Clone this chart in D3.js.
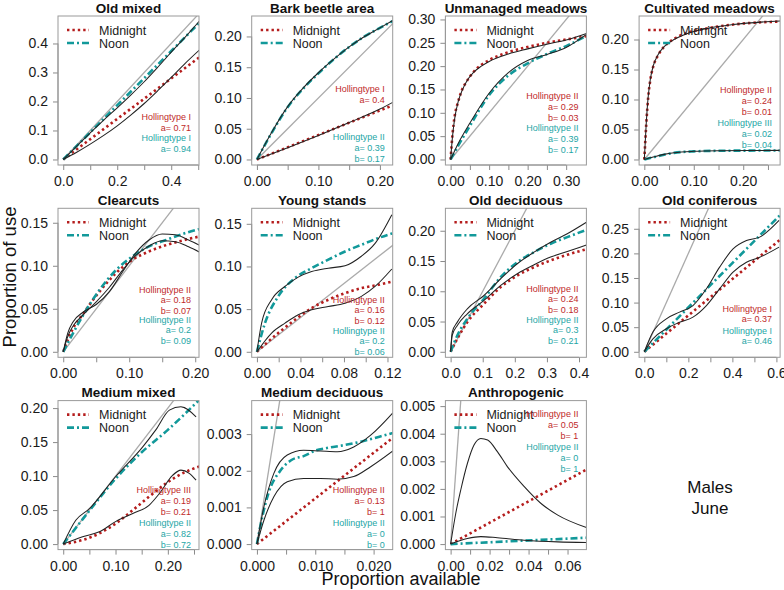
<!DOCTYPE html>
<html><head><meta charset="utf-8">
<script src="https://cdn.jsdelivr.net/npm/d3@7"></script>
<style>body{margin:0;background:#fff}svg{display:block;font-family:"Liberation Sans",Arial,Helvetica,sans-serif}</style>
</head><body><svg id="c" width="784" height="590"></svg>
<script>
// ---------- data ----------
const titles = ["Old mixed","Bark beetle area","Unmanaged meadows","Cultivated meadows",
  "Clearcuts","Young stands","Old deciduous","Old coniferous",
  "Medium mixed","Medium deciduous","Anthropogenic"];
const xMax = [0.4835,0.2123,0.339,0.264,0.1978,0.120,0.4067,0.593,0.2496,0.02238,0.0670];
const yMax = [0.4757,0.2243,0.2956,0.230,0.1604,0.1617,0.228,0.2804,0.2029,0.003763,0.0050];
const xTicks = [
  [0,0.1,0.2,0.3,0.4,0.5],[0,0.05,0.1,0.15,0.2],[0,0.05,0.1,0.15,0.2,0.25,0.3],[0,0.05,0.1,0.15,0.2,0.25],
  [0,0.05,0.1,0.15,0.2],[0,0.02,0.04,0.06,0.08,0.1,0.12],[0,0.1,0.2,0.3,0.4],[0,0.1,0.2,0.3,0.4,0.5,0.6],
  [0,0.05,0.1,0.15,0.2,0.25],[0,0.005,0.01,0.015,0.02],[0,0.01,0.02,0.03,0.04,0.05,0.06]];
const xTickLabels = [
  ["0.0","","0.2","","0.4",""],["0.00","","0.10","","0.20"],["0.00","","0.10","","0.20","","0.30"],["0.00","","0.10","","0.20",""],
  ["0.00","","0.10","","0.20"],["0.00","","0.04","","0.08","","0.12"],["0.0","0.1","0.2","0.3","0.4"],["0.0","","0.2","","0.4","","0.6"],
  ["0.00","","0.10","","0.20",""],["0.000","","0.010","","0.020"],["0.00","","0.02","","0.04","","0.06"]];
const yTicks = [
  [0,0.1,0.2,0.3,0.4],[0,0.05,0.1,0.15,0.2],[0,0.05,0.1,0.15,0.2,0.25,0.3],[0,0.05,0.1,0.15,0.2],
  [0,0.05,0.1,0.15],[0,0.05,0.1,0.15],[0,0.05,0.1,0.15,0.2],[0,0.05,0.1,0.15,0.2,0.25],
  [0,0.05,0.1,0.15,0.2],[0,0.001,0.002,0.003],[0,0.001,0.002,0.003,0.004,0.005]];
const yTickLabels = [
  ["0.0","0.1","0.2","0.3","0.4"],["0.00","0.05","0.10","0.15","0.20"],["0.00","0.05","0.10","0.15","0.20","0.25","0.30"],["0.00","0.05","0.10","0.15","0.20"],
  ["0.00","0.05","0.10","0.15"],["0.00","0.05","0.10","0.15"],["0.00","0.05","0.10","0.15","0.20"],["0.00","0.05","0.10","0.15","0.20","0.25"],
  ["0.00","0.05","0.10","0.15","0.20"],["0.000","0.001","0.002","0.003"],["0.000","0.001","0.002","0.003","0.004","0.005"]];

// fitted Holling curves, midnight (red dotted)
const midnightFit = [
  [[0,0],[0.505,0.353]],
  [[0,0],[0.221,0.088]],
  [[0,0],[0.005,0.055],[0.01,0.09],[0.02,0.125],[0.03,0.15],[0.04,0.165],[0.06,0.188],[0.08,0.203],[0.1,0.213],[0.15,0.23],[0.2,0.241],[0.25,0.25],[0.3,0.257],[0.353,0.264]],
  [[0,0],[0.004,0.06],[0.008,0.105],[0.012,0.132],[0.018,0.155],[0.028,0.174],[0.04,0.188],[0.06,0.201],[0.09,0.212],[0.13,0.219],[0.18,0.225],[0.275,0.23]],
  [[0,0],[0.014,0.026],[0.029,0.043],[0.055,0.07],[0.08,0.0915],[0.105,0.107],[0.13,0.1167],[0.156,0.124],[0.181,0.1295],[0.206,0.134]],
  [[0,0],[0.0196,0.022],[0.035,0.0375],[0.0503,0.0512],[0.0656,0.061],[0.081,0.0688],[0.096,0.0746],[0.1116,0.0785],[0.125,0.0824]],
  [[0,0],[0.0208,0.0215],[0.052,0.049],[0.104,0.0793],[0.156,0.107],[0.2077,0.126],[0.26,0.14],[0.3115,0.151],[0.3634,0.1603],[0.423,0.1695]],
  [[0,0],[0.617,0.228]],
  [[0,0],[0.037,0.006],[0.069,0.0157],[0.1,0.03],[0.133,0.05],[0.164,0.0696],[0.196,0.089],[0.228,0.104],[0.26,0.114]],
  [[0,0],[0.0233,0.0029]],
  [[0,0],[0.0697,0.0027]]];
// fitted Holling curves, noon (teal dash-dot)
const noonFit = [
  [[0,0],[0.505,0.472]],
  [[0,0],[0.025,0.045],[0.05,0.085],[0.075,0.115],[0.1,0.14],[0.125,0.163],[0.15,0.183],[0.175,0.2],[0.2,0.214],[0.221,0.225]],
  [[0,0],[0.02,0.03],[0.05,0.072],[0.1,0.138],[0.15,0.18],[0.2,0.206],[0.25,0.226],[0.3,0.243],[0.353,0.265]],
  [[0,0],[0.02,0.004],[0.04,0.008],[0.06,0.011],[0.1,0.0135],[0.15,0.0145],[0.275,0.015]],
  [[0,0],[0.029,0.041],[0.055,0.072],[0.08,0.095],[0.105,0.111],[0.13,0.1225],[0.156,0.13],[0.181,0.137],[0.206,0.1426]],
  [[0,0],[0.0074,0.0336],[0.0196,0.065],[0.035,0.0864],[0.0503,0.098],[0.0656,0.108],[0.081,0.1176],[0.096,0.1254],[0.1116,0.1333],[0.125,0.139]],
  [[0,0],[0.0208,0.027],[0.052,0.0545],[0.104,0.0876],[0.156,0.1234],[0.2077,0.148],[0.26,0.1647],[0.3115,0.1785],[0.3634,0.1895],[0.423,0.2015]],
  [[0,0],[0.617,0.278]],
  [[0,0],[0.05,0.049],[0.1,0.096],[0.15,0.135],[0.2,0.168],[0.26,0.212]],
  [[0,0],[0.001,0.0008],[0.002,0.0014],[0.004,0.002],[0.006,0.0023],[0.008,0.0024],[0.01,0.00255],[0.012,0.00262],[0.015,0.0027],[0.018,0.0028],[0.021,0.00293],[0.0233,0.00303]],
  [[0,0],[0.0697,0.00023]]];
// smoothed observed use (black), one per time of day
const smoothMidnight = [
  [[0,0],[0.05,0.025],[0.1,0.053],[0.15,0.083],[0.2,0.116],[0.25,0.153],[0.3,0.193],[0.35,0.237],[0.4,0.283],[0.45,0.33],[0.505,0.378]],
  [[0,0],[0.05,0.019],[0.1,0.039],[0.15,0.06],[0.2,0.082],[0.221,0.093]],
  [[0,0],[0.005,0.05],[0.01,0.085],[0.02,0.125],[0.03,0.148],[0.04,0.165],[0.06,0.187],[0.08,0.2],[0.1,0.21],[0.15,0.226],[0.2,0.237],[0.25,0.247],[0.3,0.256],[0.353,0.27]],
  [[0,0],[0.004,0.062],[0.008,0.106],[0.012,0.133],[0.018,0.156],[0.028,0.175],[0.04,0.188],[0.06,0.2],[0.09,0.211],[0.13,0.219],[0.18,0.225],[0.275,0.231]],
  [[0,0],[0.007,0.018],[0.015,0.03],[0.03,0.043],[0.05,0.058],[0.07,0.075],[0.09,0.095],[0.11,0.112],[0.13,0.123],[0.15,0.129],[0.17,0.128],[0.19,0.122],[0.206,0.116]],
  [[0,0],[0.0135,0.022],[0.0258,0.0336],[0.038,0.0434],[0.0503,0.0492],[0.0656,0.053],[0.081,0.057],[0.096,0.0649],[0.1086,0.0766],[0.124,0.097]],
  [[0,0],[0.005,0.027],[0.0208,0.0435],[0.052,0.0628],[0.104,0.0848],[0.156,0.1096],[0.2077,0.129],[0.26,0.1438],[0.3115,0.1565],[0.3634,0.1658],[0.423,0.1765]],
  [[0,0],[0.039,0.0264],[0.1,0.0467],[0.16,0.06],[0.221,0.0705],[0.282,0.094],[0.342,0.128],[0.403,0.162],[0.464,0.182],[0.524,0.192],[0.612,0.2127]],
  [[0,0],[0.037,0.0108],[0.069,0.018],[0.1,0.033],[0.133,0.045],[0.164,0.057],[0.184,0.0745],[0.209,0.101],[0.225,0.1088],[0.241,0.104],[0.254,0.094]],
  [[0,0],[0.0012,0.00065],[0.0029,0.00129],[0.0052,0.0017],[0.008,0.00179],[0.0109,0.00179],[0.0138,0.00177],[0.0166,0.00184],[0.0195,0.00211],[0.0233,0.00254]],
  [[0,0],[0.0086,0.0002],[0.0155,0.00027],[0.024,0.00023],[0.0378,0.00014],[0.055,0.00008],[0.0697,0.00006]]];
const smoothNoon = [
  [[0,0],[0.05,0.046],[0.1,0.092],[0.15,0.136],[0.2,0.178],[0.25,0.222],[0.3,0.268],[0.35,0.318],[0.4,0.37],[0.45,0.42],[0.505,0.478]],
  [[0,0],[0.025,0.046],[0.05,0.086],[0.075,0.116],[0.1,0.141],[0.125,0.163],[0.15,0.183],[0.175,0.2],[0.2,0.214],[0.221,0.226]],
  [[0,0],[0.02,0.035],[0.05,0.078],[0.1,0.142],[0.15,0.186],[0.2,0.212],[0.25,0.225],[0.3,0.24],[0.353,0.268]],
  [[0,0],[0.02,0.0045],[0.04,0.0085],[0.06,0.0112],[0.1,0.0136],[0.15,0.0146],[0.275,0.0152]],
  [[0,0],[0.007,0.022],[0.015,0.035],[0.03,0.046],[0.05,0.055],[0.07,0.07],[0.09,0.093],[0.11,0.115],[0.13,0.13],[0.15,0.137],[0.17,0.136],[0.19,0.13],[0.206,0.124]],
  [[0,0],[0.0043,0.0336],[0.0135,0.061],[0.0258,0.0766],[0.038,0.0875],[0.0503,0.094],[0.0656,0.098],[0.081,0.1008],[0.096,0.112],[0.1086,0.127],[0.124,0.1606]],
  [[0,0],[0.005,0.0325],[0.0208,0.049],[0.052,0.071],[0.104,0.093],[0.156,0.1207],[0.2077,0.1455],[0.26,0.1647],[0.3115,0.181],[0.3634,0.195],[0.423,0.214]],
  [[0,0],[0.039,0.04],[0.1,0.067],[0.16,0.0806],[0.221,0.094],[0.282,0.128],[0.342,0.172],[0.403,0.209],[0.464,0.226],[0.524,0.233],[0.612,0.267]],
  [[0,0],[0.024,0.035],[0.05,0.052],[0.1,0.099],[0.152,0.143],[0.177,0.168],[0.203,0.197],[0.225,0.202],[0.254,0.187]],
  [[0,0],[0.0012,0.00102],[0.0029,0.00193],[0.0052,0.00243],[0.008,0.00256],[0.0109,0.00254],[0.0138,0.00252],[0.0166,0.00265],[0.0195,0.00297],[0.0233,0.00358]],
  [[0,0],[0.0026,0.0011],[0.0052,0.00196],[0.0086,0.00292],[0.012,0.00359],[0.0155,0.00383],[0.019,0.00377],[0.024,0.00335],[0.0292,0.0028],[0.0378,0.00208],[0.0464,0.00147],[0.055,0.00105],[0.0697,0.0006]]];

const midnightText = [
  ["Hollingtype I","a= 0.71"],["Hollingtype I","a= 0.4"],["Hollingtype II","a= 0.29","b= 0.03"],["Hollingtype II","a= 0.24","b= 0.01"],
  ["Hollingtype II","a= 0.18","b= 0.07"],["Hollingtype II","a= 0.16","b= 0.12"],["Hollingtype II","a= 0.24","b= 0.18"],["Hollingtype I","a= 0.37"],
  ["Hollingtype III","a= 0.19","b= 0.21"],["Hollingtype II","a= 0.13","b= 1"],["Hollingtype II","a= 0.05","b= 1"]];
const noonText = [
  ["Hollingtype I","a= 0.94"],["Hollingtype II","a= 0.39","b= 0.17"],["Hollingtype II","a= 0.39","b= 0.17"],["Hollingtype III","a= 0.02","b= 0.04"],
  ["Hollingtype II","a= 0.2","b= 0.09"],["Hollingtype II","a= 0.2","b= 0.06"],["Hollingtype II","a= 0.3","b= 0.21"],["Hollingtype I","a= 0.46"],
  ["Hollingtype II","a= 0.82","b= 0.72"],["Hollingtype II","a= 0","b= 0"],["Hollingtype II","a= 0","b= 1"]];
const seriesNames = ["Midnight","Noon"];

// ---------- layout ----------
const annotMidTop = [101,73,80,74,81,91,80,100,89.5,89.5,13.5];
const annotNoonTop = [122,121,112,107,111,122,111,122,122.5,122.5,46.5];
const W = 141, H = 149;
const RED = "#b51d1d", RED_T = "#c02a2a", TEAL = "#12999a", TEAL_T = "#1ea6a6";

const svg = d3.select("#c");
const defs = svg.append("defs");

titles.forEach((t, i) => {
  const col = i % 4, row = Math.floor(i / 4);
  const left = 58 + col * 193.7, top = 16 + row * 192.3;
  const x = d3.scaleLinear().domain([-0.04 * xMax[i], 1.04 * xMax[i]]).range([left, left + W]);
  const y = d3.scaleLinear().domain([-0.04 * yMax[i], 1.04 * yMax[i]]).range([top + H, top]);
  const g = svg.append("g");
  defs.append("clipPath").attr("id", "clip" + i).append("rect")
    .attr("x", left).attr("y", top).attr("width", W).attr("height", H);

  // axes (R style)
  const xa = g.append("g").attr("transform", `translate(0,${top + H})`)
    .call(d3.axisBottom(x).tickValues(xTicks[i]).tickSize(5).tickPadding(6)
      .tickFormat((d, k) => xTickLabels[i][k]));
  const ya = g.append("g").attr("transform", `translate(${left},0)`)
    .call(d3.axisLeft(y).tickValues(yTicks[i]).tickSize(5).tickPadding(5)
      .tickFormat((d, k) => yTickLabels[i][k]));
  [xa, ya].forEach(a => {
    a.select(".domain").remove();
    a.selectAll(".tick line").attr("stroke", "#8a8a8a");
    a.selectAll("text").attr("font-size", 14).attr("fill", "#1a1a1a")
      .attr("font-family", "'Liberation Sans', Arial, sans-serif");
  });
  xa.append("line").attr("x1", x(xTicks[i][0])).attr("x2", x(xTicks[i][xTicks[i].length - 1]))
    .attr("stroke", "#8a8a8a");
  ya.append("line").attr("y1", y(yTicks[i][0])).attr("y2", y(yTicks[i][yTicks[i].length - 1]))
    .attr("stroke", "#8a8a8a");

  const plot = g.append("g").attr("clip-path", `url(#clip${i})`);
  const D = Math.max(1.04 * xMax[i], 1.04 * yMax[i]);
  plot.append("line").attr("x1", x(0)).attr("y1", y(0)).attr("x2", x(D)).attr("y2", y(D))
    .attr("stroke", "#aaaaaa").attr("stroke-width", 1.3);
  const line = d3.line().x(d => x(d[0])).y(d => y(d[1])).curve(d3.curveMonotoneX);
  plot.append("path").attr("d", line(midnightFit[i])).attr("fill", "none")
    .attr("stroke", RED).attr("stroke-width", 2.6).attr("stroke-dasharray", "2.4,3");
  plot.append("path").attr("d", line(noonFit[i])).attr("fill", "none")
    .attr("stroke", TEAL).attr("stroke-width", 2.6).attr("stroke-dasharray", "7,3,2,3");
  [smoothMidnight[i], smoothNoon[i]].forEach(s =>
    plot.append("path").attr("d", line(s)).attr("fill", "none")
      .attr("stroke", "#222").attr("stroke-width", 1.05));

  // box
  g.append("rect").attr("x", left).attr("y", top).attr("width", W).attr("height", H)
    .attr("fill", "none").attr("stroke", "#9a9a9a").attr("stroke-width", 1);

  // title
  g.append("text").attr("x", left + W / 2).attr("y", top - 3.5).attr("text-anchor", "middle")
    .attr("font-size", 13.5).attr("font-weight", "bold").attr("fill", "#111").text(t);

  // legend
  const leg = [[RED, "2.4,3"], [TEAL, "7,3,2,3"]];
  seriesNames.forEach((n, k) => {
    const ly = top + 14 + k * 13;
    g.append("line").attr("x1", left + 9).attr("x2", left + 31).attr("y1", ly).attr("y2", ly)
      .attr("stroke", leg[k][0]).attr("stroke-width", 2.6).attr("stroke-dasharray", leg[k][1]);
    g.append("text").attr("x", left + 41).attr("y", ly + 4.5).attr("font-size", 12.5)
      .attr("fill", "#1a1a1a").text(n);
  });

  // annotations
  const ax = left + W - 8;
  midnightText[i].forEach((s, k) => g.append("text").attr("x", ax)
    .attr("y", top + annotMidTop[i] + k * 10.8 + 3.2).attr("text-anchor", "end")
    .attr("font-size", 9).attr("fill", RED_T).text(s));
  noonText[i].forEach((s, k) => g.append("text").attr("x", ax)
    .attr("y", top + annotNoonTop[i] + k * 10.8 + 3.2).attr("text-anchor", "end")
    .attr("font-size", 9).attr("fill", TEAL_T).text(s));
});

svg.append("text").attr("transform", "translate(16,277) rotate(-90)").attr("text-anchor", "middle")
  .attr("font-size", 18.5).attr("fill", "#111").text("Proportion of use");
svg.append("text").attr("x", 401).attr("y", 585).attr("text-anchor", "middle")
  .attr("font-size", 18).attr("fill", "#111").text("Proportion available");
svg.append("text").attr("x", 710).attr("y", 493).attr("text-anchor", "middle")
  .attr("font-size", 17).attr("fill", "#111").text("Males");
svg.append("text").attr("x", 710).attr("y", 514).attr("text-anchor", "middle")
  .attr("font-size", 17).attr("fill", "#111").text("June");
</script></body></html>
